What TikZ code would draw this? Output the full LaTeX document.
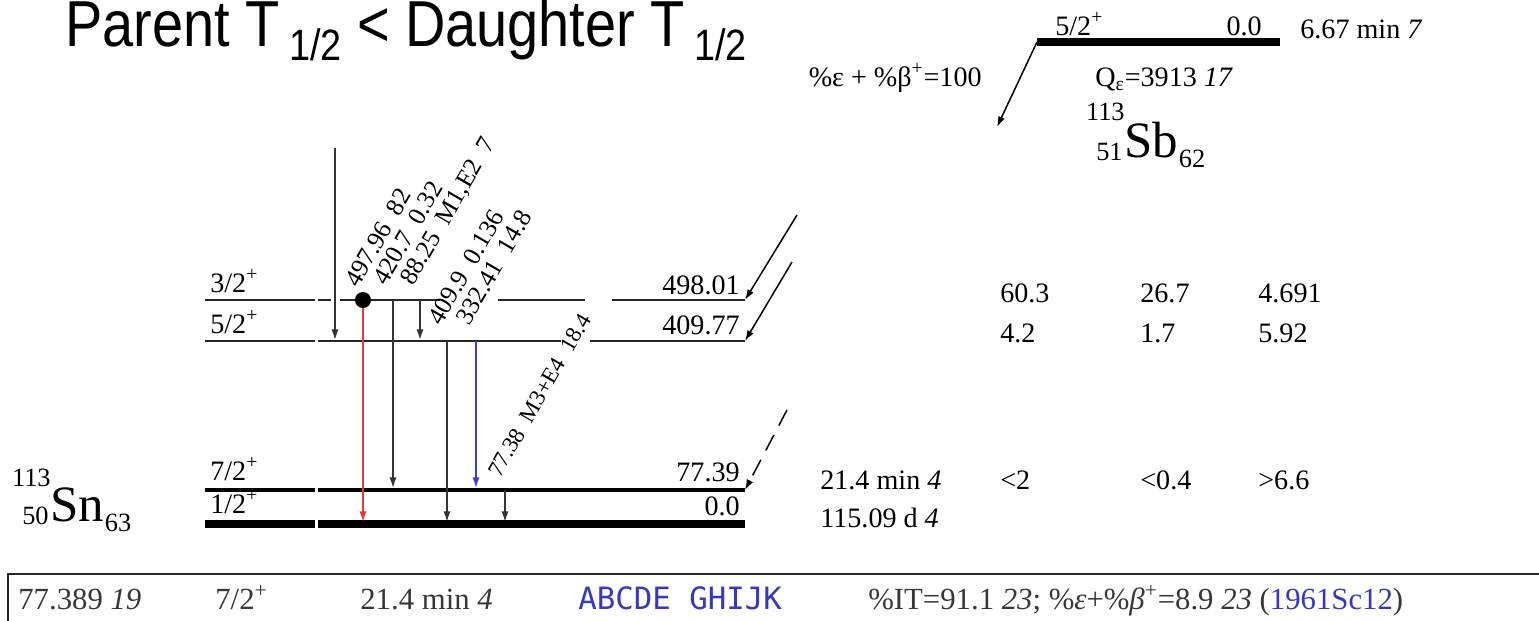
\documentclass[tikz,border=0pt]{standalone}
\usepackage{fontspec}
\setmainfont{Liberation Serif}
\newfontfamily\titlefont{Liberation Sans}
\setmonofont{DejaVu Sans Mono}
\usetikzlibrary{arrows.meta}
\definecolor{redg}{RGB}{225,60,55}
\definecolor{blueg}{RGB}{60,60,220}
\definecolor{boxtext}{RGB}{55,55,55}
\definecolor{bluetext}{RGB}{55,55,195}
\begin{document}
\begin{tikzpicture}[x=0.02cm,y=-0.02cm,
  lvlthin/.style={line width=1.1pt, draw=black!85},
  lvlmid/.style={line width=2.8pt},
  lvlthick/.style={line width=4pt},
  gam/.style={line width=0.85pt, draw=black!80, -{Latex[length=6pt,width=4pt]}},
  glab/.style={rotate=60, anchor=base west, font=\fontsize{14.5}{16}\selectfont, inner sep=0pt},
  lab/.style={font=\fontsize{16}{18}\selectfont, inner sep=0pt},
  boxlab/.style={font=\fontsize{17.5}{20}\selectfont, inner sep=0pt, anchor=base west, text=boxtext},
  big/.style={font=\fontsize{29}{31}\selectfont, inner sep=0pt},
  scr/.style={font=\fontsize{15}{17}\selectfont, inner sep=0pt}]
\useasboundingbox (0,0) rectangle (1539,620);
\clip (0,0) rectangle (1539,620);

% title
\node[anchor=base west, inner sep=0pt] (title) at (65,46) {\scalebox{0.86}[1]{\titlefont\fontsize{37}{40}\selectfont Parent T\,\raisebox{-8pt}{\fontsize{25}{27}\selectfont 1/2} < Daughter T\,\raisebox{-8pt}{\fontsize{25}{27}\selectfont 1/2}}};

% parent level
\coordinate (sbL) at (1037,42);
\coordinate (sbR) at (1280,42);
\coordinate (sbArr) at (997,127);
\draw[lvlthick] (sbL) -- (sbR);
\node[lab, anchor=base west] (sbJ) at (1055,35) {5/2\textsuperscript{+}};
\node[lab, anchor=base east] (sbE) at (1262,35) {0.0};
\node[lab, anchor=base west] (sbT) at (1300,38) {6.67 min \textit{7}};
\draw[gam, draw=black] (sbL) -- (sbArr);
\node[lab, anchor=base east] (branch) at (982,86) {\%ε + \%β\textsuperscript{+}=100};
\node[lab, anchor=base west] (qval) at (1095,86) {Q\textsubscript{ε}=3913 \textit{17}};
\node[big, anchor=base west] (sb) at (1124,157) {Sb};
\node[scr, anchor=base east] (sbA) at (1125,120) {113};
\node[scr, anchor=base east] (sbZ) at (1123,160) {51};
\node[scr, anchor=base west] (sbN) at (sb.base east) [yshift=-6pt] {62};

% daughter nuclide
\node[big, anchor=base west] (sn) at (50,521) {Sn};
\node[scr, anchor=base east] (snA) at (51,486) {113};
\node[scr, anchor=base east] (snZ) at (49,524) {50};
\node[scr, anchor=base west] (snN) at (sn.base east) [yshift=-6pt] {63};

% levels
\draw[lvlthin] (205,300) -- (315,300) (318,300) -- (331,300) (340,300) -- (440,300)
  (498,300) -- (585,300) (612,300) -- (745,300);
\draw[lvlthin] (205,341) -- (315,341) (318,341) -- (561,341) (590,341) -- (745,341);
\draw[lvlmid] (205,490) -- (315,490) (318,490) -- (745,490);
\draw[lvlthick] (205,524) -- (315,524) (318,524) -- (745,524);

\node[lab, anchor=base west] (j1) at (210,292) {3/2\textsuperscript{+}};
\node[lab, anchor=base west] (j2) at (210,333) {5/2\textsuperscript{+}};
\node[lab, anchor=base west] (j3) at (210,480) {7/2\textsuperscript{+}};
\node[lab, anchor=base west] (j4) at (210,513) {1/2\textsuperscript{+}};
\node[lab, anchor=base east] (e1) at (740,294) {498.01};
\node[lab, anchor=base east] (e2) at (740,334) {409.77};
\node[lab, anchor=base east] (e3) at (740,481) {77.39};
\node[lab, anchor=base east] (e4) at (740,515) {0.0};

% feeding arrows
\coordinate (f1s) at (797,215); \coordinate (f1e) at (745,300);
\coordinate (f2s) at (792,262); \coordinate (f2e) at (745,341);
\coordinate (f3s) at (787,410); \coordinate (f3e) at (745,490);
\draw[gam, draw=black] (f1s) -- (f1e);
\draw[gam, draw=black] (f2s) -- (f2e);
\draw[gam, draw=black, dash pattern=on 10pt off 6pt] (f3s) -- (f3e);

% gamma transitions
\coordinate (g1s) at (335,148); \coordinate (g1e) at (335,340);
\coordinate (g2s) at (363,300); \coordinate (g2e) at (363,522);
\coordinate (g3s) at (393,300); \coordinate (g3e) at (393,488);
\coordinate (g4s) at (420,300); \coordinate (g4e) at (420,340);
\coordinate (g5s) at (447,341); \coordinate (g5e) at (447,522);
\coordinate (g6s) at (476,341); \coordinate (g6e) at (476,488);
\coordinate (g7s) at (505,490); \coordinate (g7e) at (505,522);
\draw[gam] (g1s) -- (g1e);
\draw[gam, draw=redg] (g2s) -- (g2e);
\fill (g2s) circle[radius=8];
\draw[gam] (g3s) -- (g3e);
\draw[gam] (g4s) -- (g4e);
\draw[gam] (g5s) -- (g5e);
\draw[gam, draw=blueg] (g6s) -- (g6e);
\draw[gam] (g7s) -- (g7e);

\node[glab] (l2) at (358,289) {497.96\ \ 82};
\node[glab] (l3) at (386,287) {420.7\ \ 0.32};
\node[glab] (l4) at (413,287) {88.25\ \ M1,E2\ \ 7};
\node[glab] (l5) at (441,327) {409.9\ \ 0.136};
\node[glab] (l6) at (469,327) {332.41\ \ 14.8};
\node[glab, font=\fontsize{13}{15}\selectfont] (l7) at (500,479) {77.38\enspace M3+E4\enspace 18.4};

% right columns
\node[lab, anchor=base west] (c11) at (1000,302) {60.3};
\node[lab, anchor=base west] (c12) at (1140,302) {26.7};
\node[lab, anchor=base west] (c13) at (1258,302) {4.691};
\node[lab, anchor=base west] (c21) at (1000,342) {4.2};
\node[lab, anchor=base west] (c22) at (1140,342) {1.7};
\node[lab, anchor=base west] (c23) at (1258,342) {5.92};
\node[lab, anchor=base west] (t3) at (820,489) {21.4 min \textit{4}};
\node[lab, anchor=base west] (c31) at (1000,489) {<2};
\node[lab, anchor=base west] (c32) at (1140,489) {<0.4};
\node[lab, anchor=base west] (c33) at (1258,489) {>6.6};
\node[lab, anchor=base west] (t4) at (820,527) {115.09 d \textit{4}};

% bottom box
\draw[line width=1.4pt, draw=black!85] (8,640) -- (8,574) -- (1560,574);
\node[boxlab] (b1) at (18,609) {77.389 \textit{19}};
\node[boxlab] (b2) at (215,609) {7/2\textsuperscript{+}};
\node[boxlab] (b3) at (360,609) {21.4 min \textit{4}};
\node[boxlab, text=bluetext] (b4) at (578,609) {\ttfamily ABCDE GHIJK};
\node[boxlab] (b5) at (868,609) {\%IT=91.1 \textit{23}; \%\textit{ε}+\%\textit{β}\textsuperscript{+}=8.9 \textit{23} (\textcolor{bluetext}{1961Sc12})};
\end{tikzpicture}
\end{document}
